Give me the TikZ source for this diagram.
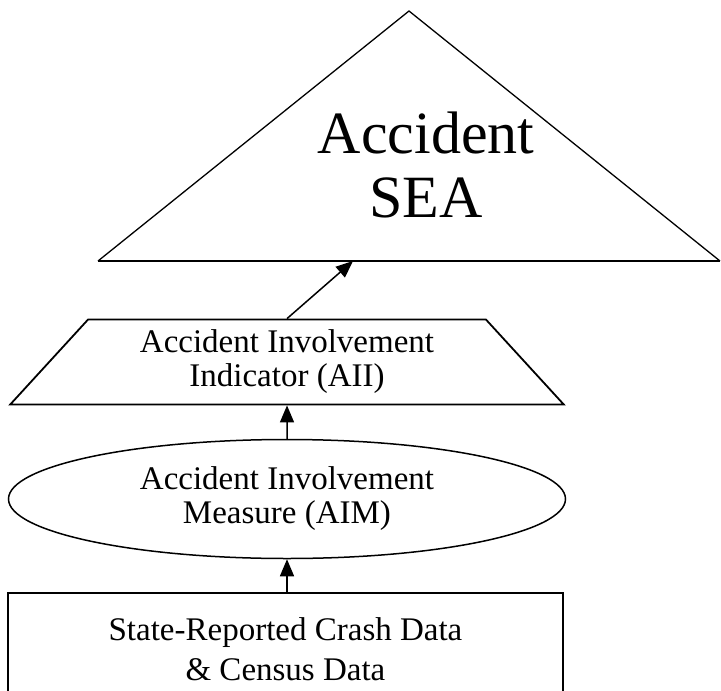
\documentclass[tikz,border=0pt]{standalone}
\usepackage{fontspec}
\setmainfont{Liberation Serif}
\usetikzlibrary{shapes.geometric,arrows.meta}
\begin{document}
\begin{tikzpicture}[x=1pt,y=-1pt]
  \clip (0,0) rectangle (721,691);
  % corners of the SEA triangle
  \coordinate (t1) at (98,261);
  \coordinate (t2) at (409,11);
  \coordinate (t3) at (720,261);
  \coordinate (t4) at (353,261);
  \draw[line width=1.3pt] (t1) -- (t2) -- (t3);
  \draw[line width=1.8pt] (t1) -- (t3);
  \node[font=\fontsize{60}{64}\selectfont,align=center] (sea) at (426,164.5) {Accident\\SEA};
  \begin{scope}[every node/.style={draw,line width=1.8pt,align=center,inner sep=0pt,font=\fontsize{33}{34}\selectfont}]
  \node[trapezium,trapezium stretches,trapezium left angle=48,trapezium right angle=48,minimum width=554pt,minimum height=85pt] (aii) at (287,362) {Accident Involvement\\Indicator (AII)};
  \node[ellipse,line width=1.5pt,minimum width=557pt,minimum height=119pt] (aim) at (287,499) {Accident Involvement\\Measure (AIM)};
  \node[rectangle,minimum width=555pt,minimum height=112pt,font=\fontsize{33}{40}\selectfont] (data) at (285.5,649) {State-Reported Crash Data\\\& Census Data};
  \end{scope}
  \begin{scope}[every edge/.style={draw=black,line width=1.5pt,-{Triangle[length=17pt,width=14pt]}}]
  \path (data.north -| aim.south) edge (aim.south);
  \path (aim.north) edge (aii.south);
  \path (aii.north) edge (t4);
  \end{scope}
\end{tikzpicture}
\end{document}
